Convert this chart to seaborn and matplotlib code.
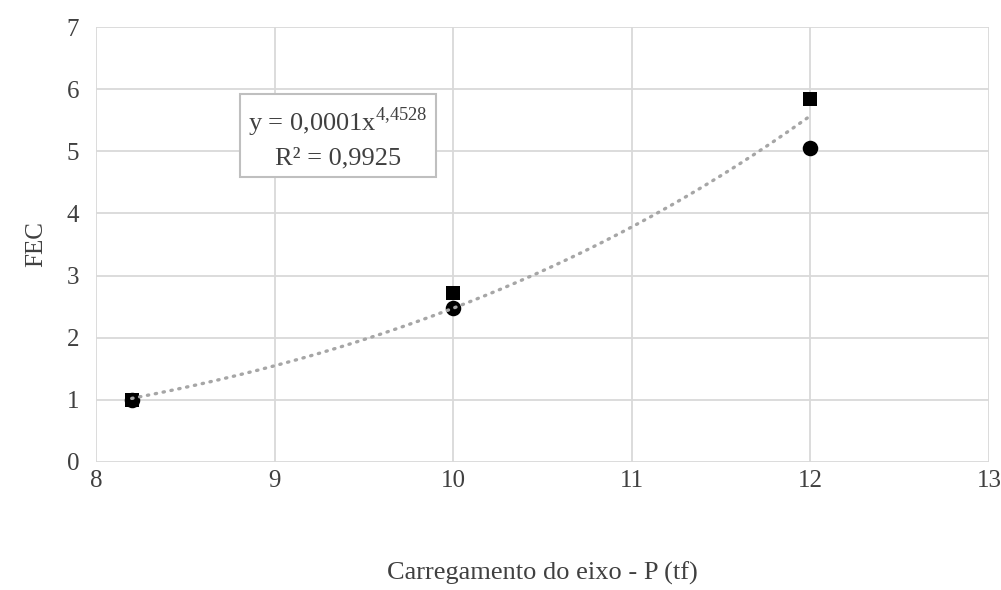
import numpy as np
import pandas as pd
import matplotlib
matplotlib.use('Agg')
import matplotlib.pyplot as plt
import seaborn as sns

# data
carga = [8.2, 10, 12]
fec_circulo = [1.0, 2.48, 5.05]
fec_quadrado = [1.0, 2.72, 5.85]
x_ticks = [8, 9, 10, 11, 12, 13]
y_ticks = [0, 1, 2, 3, 4, 5, 6, 7]

sns.set_style('whitegrid')
plt.rcParams['font.family'] = ['Liberation Serif', 'DejaVu Serif']
plt.rcParams['mathtext.fontset'] = 'custom'
plt.rcParams['mathtext.rm'] = 'Liberation Serif'

fig = plt.figure(figsize=(10.01, 5.9), dpi=100)
ax = fig.add_axes([0.0959, 0.217, 0.8921, 0.737])

df_c = pd.DataFrame({'x': carga, 'y': fec_circulo})
df_q = pd.DataFrame({'x': carga, 'y': fec_quadrado})

sns.scatterplot(data=df_c, x='x', y='y', marker='o', s=125, color='black',
                edgecolor='black', linewidth=0, ax=ax, zorder=3)
sns.scatterplot(data=df_q, x='x', y='y', marker='s', s=110, color='black',
                edgecolor='black', linewidth=0, ax=ax, zorder=4)

# power trendline (fit in log space, as Excel does)
xx = np.array(carga * 2)
yy = np.array(fec_circulo + fec_quadrado)
b, ln_a = np.polyfit(np.log(xx), np.log(yy), 1)
xs = np.linspace(8.2, 12, 200)
trend = pd.DataFrame({'x': xs, 'y': np.exp(ln_a) * xs ** b})
sns.lineplot(data=trend, x='x', y='y', color='#a6a6a6', linewidth=2.4,
             linestyle=(0, (0.4, 2.0)), dash_capstyle='round', ax=ax, zorder=5)

ax.text(9.355, 5.23, 'y = 0,0001x$^{\\mathrm{4{,}4528}}$\nR² = 0,9925',
        ha='center', va='center', multialignment='center', fontsize=19,
        color='#404040', linespacing=1.5, zorder=6,
        bbox=dict(boxstyle='square,pad=0.3', facecolor='white',
                  edgecolor='#bfbfbf', linewidth=1.5))

ax.set_xlim(8, 13)
ax.set_ylim(0, 7)
ax.set_xticks(x_ticks)
ax.set_yticks(y_ticks)
ax.grid(True, color='#d9d9d9', linewidth=1.3)
for s in ax.spines.values():
    s.set_visible(False)
ax.tick_params(axis='both', length=0, labelsize=18, colors='#404040')
ax.tick_params(axis='x', pad=6)
ax.tick_params(axis='y', pad=12)
ax.set_xlabel('Carregamento do eixo - P (tf)', fontsize=19, color='#404040', labelpad=50)
ax.set_ylabel('FEC', fontsize=18, color='#404040', labelpad=14)

fig.savefig('out.png', dpi=100)
